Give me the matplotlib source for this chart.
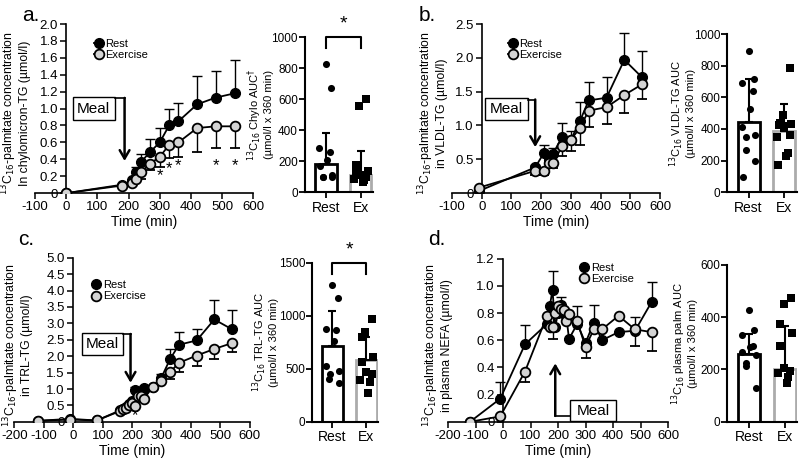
import matplotlib
matplotlib.use('Agg')
import matplotlib.pyplot as plt
from matplotlib.patches import Rectangle
from matplotlib.ticker import FuncFormatter
import numpy as np

plt.rcParams['font.family'] = ['Liberation Sans', 'DejaVu Sans']
plt.rcParams['axes.unicode_minus'] = False

# ---- a. chylomicron-TG ----
time_a = [0, 180, 210, 225, 240, 270, 300, 330, 360, 420, 480, 540]
rest_a = [0.0, 0.10, 0.15, 0.25, 0.37, 0.49, 0.60, 0.80, 0.85, 1.05, 1.13, 1.18]
rest_a_err = [0, 0, 0, 0.06, 0.09, 0.15, 0.17, 0.20, 0.21, 0.33, 0.32, 0.39]
ex_a = [0.0, 0.09, 0.12, 0.17, 0.25, 0.35, 0.43, 0.57, 0.60, 0.77, 0.79, 0.79]
ex_a_err = [0, 0, 0, 0.02, 0.08, 0.08, 0.12, 0.16, 0.17, 0.28, 0.26, 0.26]
star_a_time = [300, 330, 360, 480, 540]
star_a_y = [0.21, 0.29, 0.33, 0.32, 0.32]

auc_a_rest = [830, 675, 287, 259, 205, 168, 110, 100, 100, 100]
auc_a_ex = [600, 555, 177, 140, 130, 108, 97, 86, 76, 65]
auc_a_bar = [185, 110]
auc_a_sd = [195, 155]

# ---- b. VLDL-TG ----
time_b = [-10, 180, 210, 225, 240, 270, 300, 330, 360, 420, 480, 540]
rest_b = [0.03, 0.38, 0.60, 0.49, 0.58, 0.83, 0.79, 1.06, 1.37, 1.41, 1.97, 1.71]
rest_b_err = [0, 0.04, 0.11, 0, 0.08, 0.21, 0.13, 0.29, 0.28, 0.30, 0.39, 0.39]
ex_b = [0.08, 0.33, 0.33, 0.44, 0.44, 0.69, 0.79, 0.96, 1.22, 1.27, 1.45, 1.61]
ex_b_err = [0, 0.06, 0.06, 0, 0.07, 0.14, 0.17, 0.25, 0.24, 0.25, 0.26, 0.22]

auc_b_rest = [895, 715, 694, 639, 525, 411, 359, 352, 264, 196, 93]
auc_b_ex = [789, 489, 441, 432, 426, 416, 359, 348, 247, 226, 173]
auc_b_bar = [445, 390]
auc_b_sd = [270, 170]

# ---- c. TRL-TG ----
time_c = [-120, -10, 80, 160, 170, 180, 190, 200, 210, 220, 230, 240, 270, 300, 330, 360, 420, 480, 540]
rest_c = [0.03, 0.09, 0.04, 0.35, 0.40, 0.46, 0.55, 0.62, 0.98, 0.92, 0.88, 1.03, 1.05, 1.35, 1.92, 2.35, 2.48, 3.12, 2.82]
rest_c_err = [0, 0, 0, 0, 0, 0, 0, 0, 0.08, 0.05, 0, 0.06, 0.08, 0.10, 0.30, 0.40, 0.34, 0.58, 0.60]
ex_c = [0.03, 0.07, 0.04, 0.33, 0.38, 0.42, 0.50, 0.58, 0.48, 0.78, 0.80, 0.70, 1.05, 1.25, 1.52, 1.80, 2.02, 2.22, 2.40]
ex_c_err = [0, 0, 0, 0, 0, 0, 0, 0, 0, 0, 0, 0.10, 0, 0.08, 0.20, 0.27, 0.32, 0.30, 0.28]
star_c_time = [210]
star_c_y = [0.18]

auc_c_rest = [1295, 1168, 875, 868, 764, 530, 483, 455, 401, 363]
auc_c_ex = [973, 846, 805, 609, 568, 474, 452, 395, 379, 268]
auc_c_bar = [717, 584]
auc_c_sd = [330, 220]

# ---- d. plasma NEFA ----
time_d = [-120, -10, 80, 160, 170, 180, 190, 200, 210, 220, 230, 240, 270, 300, 330, 360, 420, 480, 540]
rest_d = [0.0, 0.17, 0.57, 0.72, 0.85, 0.97, 0.70, 0.80, 0.86, 0.80, 0.78, 0.61, 0.72, 0.58, 0.73, 0.60, 0.66, 0.67, 0.88]
rest_d_err = [0, 0.12, 0.14, 0, 0, 0.14, 0, 0.06, 0.06, 0, 0, 0, 0.13, 0, 0.13, 0, 0, 0.10, 0.15]
ex_d = [0.0, 0.04, 0.37, 0.78, 0.70, 0.70, 0.80, 0.85, 0.83, 0.82, 0.74, 0.79, 0.74, 0.55, 0.68, 0.68, 0.78, 0.68, 0.66]
ex_d_err = [0, 0, 0.08, 0, 0, 0.09, 0, 0, 0, 0, 0, 0, 0, 0.08, 0, 0, 0, 0.12, 0.14]

auc_d_rest = [428, 351, 332, 290, 287, 268, 255, 224, 215, 128]
auc_d_ex = [473, 450, 374, 341, 290, 204, 195, 188, 172, 147]
auc_d_bar = [258, 202]
auc_d_sd = [77, 165]

ylab_line = '$^{13}$C$_{16}$-palmitate concentration\n'
unit_auc = '\n(µmol/l x 360 min)'
EX_GREY = '#d4d4d4'
BAR_GREY = '#ababab'


def one_dec(v, _):
    return '0' if abs(v) < 1e-9 else f'{v:.1f}'


def line_panel(ax, t, rest, rest_err, ex, ex_err, xmin, ymax, ystep, ylabel, label_x, legend_at):
    """Excel style time course, rest error up / exercise error down."""
    z = np.zeros(len(t))
    ax.errorbar(t, rest, yerr=[z, rest_err], color='black', lw=1.3, marker='o',
                ms=7, mfc='black', mec='black', ecolor='black', elinewidth=1,
                capsize=3.5, label='Rest', zorder=3)
    ax.errorbar(t, ex, yerr=[ex_err, z], color='black', lw=1.3, marker='o',
                ms=7, mfc=EX_GREY, mec='black', mew=1.3, ecolor='black',
                elinewidth=1, capsize=3.5, label='Exercise', zorder=4)
    ax.set_xlim(xmin, 600)
    ax.set_ylim(0, ymax)
    ax.set_xticks(np.arange(xmin, 601, 100))
    ax.set_yticks(np.arange(0, ymax + 1e-9, ystep))
    ax.yaxis.set_major_formatter(FuncFormatter(one_dec))
    ax.spines['left'].set_position(('data', 0))
    ax.spines['top'].set_visible(False)
    ax.spines['right'].set_visible(False)
    for s in ('left', 'bottom'):
        ax.spines[s].set_linewidth(1.2)
    ax.tick_params(labelsize=9.5, length=4, width=1.1, pad=2)
    ax.set_xlabel('Time (min)', fontsize=10, labelpad=1)
    ax.set_ylabel(ylab_line + ylabel, fontsize=8.8, linespacing=1.0)
    ax.yaxis.set_label_coords(label_x, 0.47)
    handles, labels = ax.get_legend_handles_labels()
    ax.legend([h[0] for h in handles], labels, loc='upper left', bbox_to_anchor=legend_at,
              frameon=False, fontsize=8, handlelength=0.8, handletextpad=0.2,
              labelspacing=0.1, borderaxespad=0)


def meal(ax, x0, x1, y0, y1, tip, up=False):
    ax.add_patch(Rectangle((x0, y0), x1 - x0, y1 - y0, fc='white', ec='black', lw=1, zorder=5))
    ax.text((x0 + x1) / 2, (y0 + y1) / 2, 'Meal', ha='center', va='center', fontsize=11, zorder=6)
    ys = y0 + 0.25 * (y1 - y0) if up else y1 - 0.05 * (y1 - y0)
    xs = x0 if up else x1
    ax.plot([xs, tip[0]], [ys, ys], color='black', lw=1.2, zorder=5)
    ax.annotate('', xy=tip, xytext=(tip[0], ys),
                arrowprops=dict(arrowstyle='->,head_length=0.6,head_width=0.35', lw=1.8,
                                color='black', shrinkA=0, shrinkB=0), zorder=5)


def bar_panel(ax, rest_pts, ex_pts, bars, sds, ymax, ystep, ylabel, label_x, sig=False):
    """GraphPad style AUC bars with individual points."""
    ax.bar([0, 1], bars, width=0.62, color='white', edgecolor=['black', BAR_GREY],
           linewidth=2, zorder=1)
    ax.errorbar([0, 1], bars, yerr=[[0, 0], sds], fmt='none', ecolor='black',
                elinewidth=1.5, capsize=3, capthick=1.5, zorder=2)
    for i, (pts, mk) in enumerate([(rest_pts, 'o'), (ex_pts, 's')]):
        n = len(pts)
        off = 0.2 * np.sin(np.arange(n) * 2.3 + i)
        ax.scatter(i + off, pts, s=26, marker=mk, color='black', zorder=3, linewidths=0)
    ax.set_xlim(-0.6, 1.35)
    ax.set_ylim(0, ymax)
    ax.set_yticks(np.arange(0, ymax + 1, ystep))
    ax.set_xticks([0, 1])
    ax.set_xticklabels(['Rest', 'Ex'])
    ax.spines['top'].set_visible(False)
    ax.spines['right'].set_visible(False)
    for s in ('left', 'bottom'):
        ax.spines[s].set_linewidth(1.5)
    ax.tick_params(axis='y', labelsize=8.5, length=4, width=1.3, pad=1)
    ax.tick_params(axis='x', labelsize=10, length=4, width=1.3, pad=2)
    ax.set_ylabel(ylabel + unit_auc, fontsize=8, linespacing=1.0)
    ax.yaxis.set_label_coords(label_x, 0.5)
    if sig:
        top = ymax
        ax.plot([0, 0, 1, 1], [top * 0.93, top, top, top * 0.93], color='black', lw=1.5,
                clip_on=False)
        ax.text(0.5, top * 1.03, '*', ha='center', va='bottom', fontsize=14, clip_on=False)


fig = plt.figure(figsize=(8, 4.62), dpi=100)

ax_a = fig.add_axes([0.044, 0.582, 0.2725, 0.366])
ax_ab = fig.add_axes([0.381, 0.584, 0.085, 0.335])
ax_b = fig.add_axes([0.565, 0.582, 0.26, 0.366])
ax_bb = fig.add_axes([0.909, 0.584, 0.087, 0.342])
ax_c = fig.add_axes([0.018, 0.087, 0.294, 0.355])
ax_cb = fig.add_axes([0.39, 0.087, 0.083, 0.344])
ax_d = fig.add_axes([0.56, 0.087, 0.275, 0.353])
ax_db = fig.add_axes([0.909, 0.087, 0.0875, 0.34])

line_panel(ax_a, time_a, rest_a, rest_a_err, ex_a, ex_a_err, -100, 2.0, 0.2,
           'In chylomicron-TG (µmol/l)', -0.02, (0.25, 0.94))
for t, y in zip(star_a_time, star_a_y):
    ax_a.text(t, y, '*', ha='center', va='center', fontsize=12)
meal(ax_a, 20, 155, 0.86, 1.14, (187, 0.38))

line_panel(ax_b, time_b, rest_b, rest_b_err, ex_b, ex_b_err, -100, 2.5, 0.5,
           'in VLDL-TG (µmol/l)', -0.02, (0.25, 0.94))
meal(ax_b, 10, 155, 1.08, 1.40, (180, 0.68))

line_panel(ax_c, time_c, rest_c, rest_c_err, ex_c, ex_c_err, -200, 5.0, 0.5,
           'in TRL-TG (µmol/l)', 0.08, (0.31, 0.89))
for t, y in zip(star_c_time, star_c_y):
    ax_c.text(t, y, '*', ha='center', va='center', fontsize=12)
meal(ax_c, 30, 169, 2.05, 2.71, (195, 1.19))

line_panel(ax_d, time_d, rest_d, rest_d_err, ex_d, ex_d_err, -200, 1.2, 0.2,
           'in plasma NEFA (µmol/l)', 0.023, (0.58, 1.0))
meal(ax_d, 245, 411, 0.005, 0.16, (190, 0.43), up=True)

bar_panel(ax_ab, auc_a_rest, auc_a_ex, auc_a_bar, auc_a_sd, 1000, 200,
          '$^{13}$C$_{16}$ Chylo AUC$^{\\dagger}$', -0.46, sig=True)
bar_panel(ax_bb, auc_b_rest, auc_b_ex, auc_b_bar, auc_b_sd, 1000, 200,
          '$^{13}$C$_{16}$ VLDL-TG AUC', -0.45)
bar_panel(ax_cb, auc_c_rest, auc_c_ex, auc_c_bar, auc_c_sd, 1500, 500,
          '$^{13}$C$_{16}$ TRL-TG AUC', -0.5, sig=True)
bar_panel(ax_db, auc_d_rest, auc_d_ex, auc_d_bar, auc_d_sd, 600, 200,
          '$^{13}$C$_{16}$ plasma palm AUC', -0.42)

for lab, x, y in [('a.', 0.028, 0.955), ('b.', 0.523, 0.955), ('c.', 0.023, 0.47), ('d.', 0.535, 0.47)]:
    fig.text(x, y, lab, fontsize=15)

fig.savefig('out.png', dpi=100)
